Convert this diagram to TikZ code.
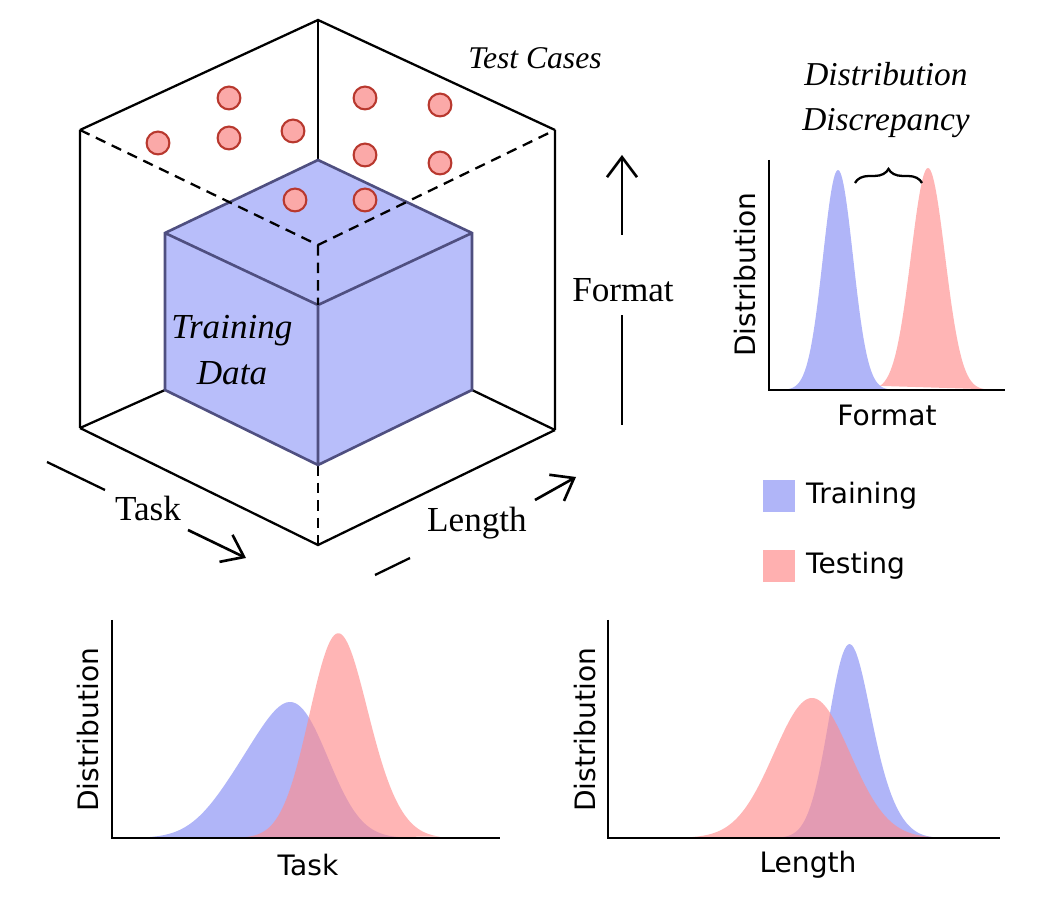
\documentclass[tikz,border=0pt]{standalone}
\usepackage{fontspec}
\setmainfont{Liberation Serif}
\newfontfamily\plotfont{DejaVu Sans}
\usetikzlibrary{arrows.meta,decorations.pathreplacing}
\definecolor{cubefill}{HTML}{B8BEFA}
\definecolor{cubeedge}{HTML}{4F4F80}
\definecolor{ptfill}{HTML}{FBA9A8}
\definecolor{ptedge}{HTML}{B8382E}
\definecolor{trainc}{HTML}{8E95F5}
\definecolor{testc}{HTML}{FF8E8E}
\tikzset{
 edge/.style={line width=1.3pt},
 dashedge/.style={line width=1.3pt,dash pattern=on 6pt off 4pt},
 pt/.style={circle,draw=ptedge,fill=ptfill,line width=1.2pt,minimum size=13pt,inner sep=0pt},
 axis/.style={line width=1.3pt},
 arr/.style={line width=1.5pt,-{Straight Barb[length=4mm,width=6mm,line width=1.5pt]}},
 lab/.style={font=\fontsize{20}{22}\selectfont},
 ilab/.style={font=\fontsize{18}{22}\selectfont\itshape,align=center},
 plab/.style={font=\plotfont\fontsize{16}{18}\selectfont},
 trainfill/.style={fill=trainc,fill opacity=0.7},
 testfill/.style={fill=testc,fill opacity=0.65},
}
\begin{document}
\begin{tikzpicture}[x=0.02cm,y=-0.02cm,
  declare function={g(\t,\m,\s)=exp(-0.5*((\t-\m)/\s)^2);}]
\useasboundingbox (0,0) rectangle (1042,911);
% outer box
\coordinate (T) at (318,20);
\coordinate (UL) at (80,130);
\coordinate (UR) at (555,130);
\coordinate (LL) at (80,428);
\coordinate (LR) at (555,430);
\coordinate (B) at (318,545);
\coordinate (C) at (318,245);
% cube
\coordinate (ct) at (318,160);
\coordinate (cl) at (165,233);
\coordinate (cr) at (472,233);
\coordinate (cc) at (318,305);
\coordinate (cll) at (165,390);
\coordinate (clr) at (472,390);
\coordinate (cb) at (318,465);
\draw[edge] (UL)--(T)--(UR) (UL)--(LL) (UR)--(LR);
\draw[edge] (T)--(ct);
\draw[edge] (LL)--(cll) (LR)--(clr);
\draw[dashedge] (cb)--(B);
\fill[cubefill] (ct)--(cr)--(clr)--(cb)--(cll)--(cl)--cycle;
\draw[cubeedge,line width=1.5pt] (ct)--(cr)--(clr)--(cb)--(cll)--(cl)--cycle (cl)--(cc)--(cr) (cc)--(cb);
\draw[dashedge] (UL)--(C)--(UR) (C)--(cc);
\draw[edge] (LL)--(B)--(LR);
% points
\foreach \n/\p in {p1/{(229,98)},p2/{(158,143)},p3/{(229,138)},p4/{(293,131)},p5/{(365,98)},p6/{(440,105)},p7/{(365,155)},p8/{(440,163)},p9/{(295,200)},p10/{(365,200)}}
  \node[pt] (\n) at \p {};
\node[ilab] (tc) at (535,58) {Test Cases};
\node[ilab,font=\fontsize{20}{26}\selectfont\itshape] (td) at (232,350) {Training\\Data};
% axes arrows
\node[lab] (task) at (148,508) {Task};
\coordinate (ta1) at (47,462); \coordinate (ta2) at (105,490);
\coordinate (ta3) at (188,530); \coordinate (ta4) at (246,558);
\draw[edge] (ta1)--(ta2);
\draw[arr] (ta3)--(ta4);
\node[lab] (len) at (477,523) {Length};
\coordinate (la1) at (375,575); \coordinate (la2) at (410,558);
\coordinate (la3) at (535,500); \coordinate (la4) at (576,477);
\draw[edge] (la1)--(la2);
\draw[arr] (la3)--(la4);
\node[lab] (fmt) at (623,290) {Format};
\coordinate (fa1) at (622,425); \coordinate (fa2) at (622,315);
\coordinate (fa3) at (622,235); \coordinate (fa4) at (622,155);
\draw[edge] (fa1)--(fa2);
\draw[arr] (fa3)--(fa4);
% top-right plot
\fill[trainfill] plot[domain=785:895,samples=80,smooth] (\x,{390-220*g(\x,838,15)}) -- cycle;
\fill[testfill] plot[domain=880:985,samples=80,smooth] (\x,{390-222*g(\x,928,17)}) -- cycle;
\coordinate (f0) at (769,390);
\draw[axis] (769,160)--(f0)--(1005,390);
\node[plab,rotate=90] (fd) at (745,275) {Distribution};
\node[plab] (fx) at (887,415) {Format};
\draw[line width=1.3pt,decorate,decoration={brace,amplitude=8pt}] (855,183)--(922,183);
\node[ilab,font=\fontsize{19}{26}\selectfont\itshape] (dd) at (886,100) {Distribution\\Discrepancy};
% legend
\fill[trainc!70!white] (763,480) rectangle (795,512);
\node[plab,anchor=west] (lt) at (800,496) {Training};
\fill[testc!70!white] (763,550) rectangle (795,582);
\node[plab,anchor=west] (ls) at (800,566) {Testing};
% bottom-left plot
\fill[trainfill] plot[domain=150:440,samples=120,smooth] (\x,{838-110*g(\x,300,32)-60*g(\x,250,35)}) -- cycle;
\fill[testfill] plot[domain=240:440,samples=120,smooth] (\x,{838-200*g(\x,337,28)-20*g(\x,380,25)}) -- cycle;
\draw[axis] (112,620)--(112,838)--(500,838);
\node[plab,rotate=90] (td2) at (88,730) {Distribution};
\node[plab] (tx) at (308,865) {Task};
% bottom-right plot
\fill[trainfill] plot[domain=760:940,samples=120,smooth] (\x,{838-185*g(\x,848,20)-30*g(\x,880,20)}) -- cycle;
\fill[testfill] plot[domain=690:940,samples=120,smooth] (\x,{838-140*g(\x,812,38)}) -- cycle;
\draw[axis] (608,620)--(608,838)--(1000,838);
\node[plab,rotate=90] (ld) at (585,730) {Distribution};
\node[plab] (lx) at (808,865) {Length};
\end{tikzpicture}
\end{document}
